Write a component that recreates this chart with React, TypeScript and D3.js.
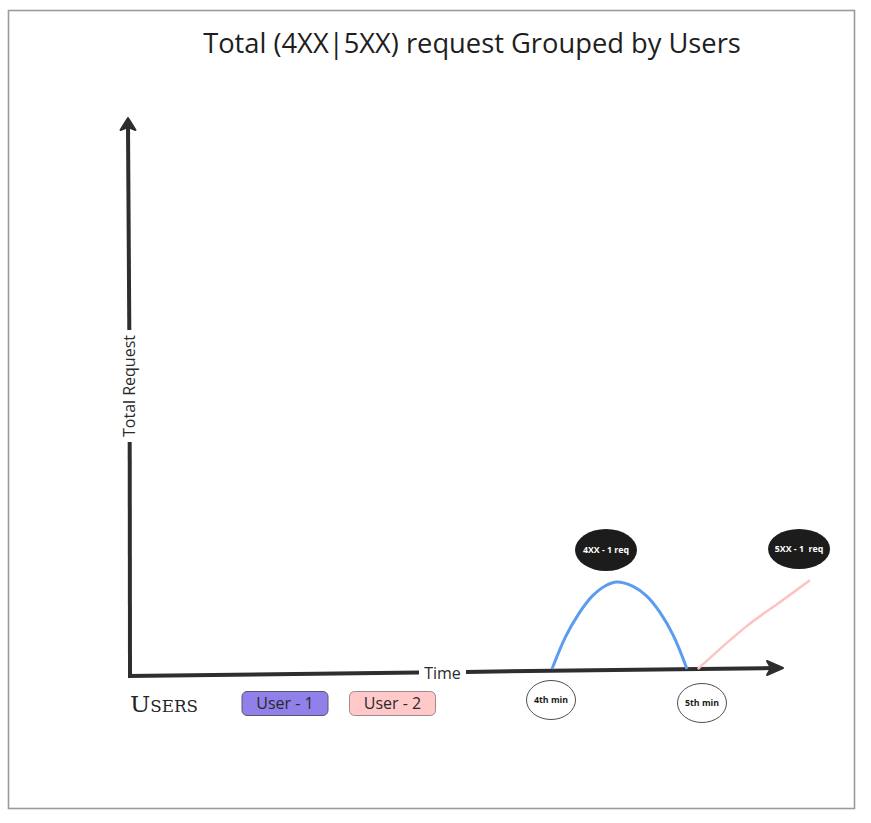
import * as d3 from 'd3';

// ---- data ----
const title = 'Total (4XX|5XX) request Grouped by Users';
const xTitle = 'Time';
const yTitle = 'Total Request';

const timeTicks = [4, 5];
const timeLabels = ['4th min', '5th min'];

// User - 1 : one 4XX request between 4th and 5th minute
const user1Minutes = [4, 4.1, 4.2, 4.3, 4.4, 4.48, 4.6, 4.7, 4.8, 4.9, 5];
const user1Requests = [0, 0.37, 0.64, 0.84, 0.96, 1, 0.95, 0.84, 0.65, 0.38, 0];

// User - 2 : one 5XX request after the 5th minute
const user2Minutes = [5.08, 5.44, 5.69, 5.91];
const user2Requests = [0, 0.49, 0.77, 1.02];

const noteLabels = ['4XX - 1 req', '5XX - 1  req'];
const noteMinutes = [4.4, 5.83];

const userNames = ['User - 1', 'User - 2'];
const userColors = ['#8f80ea', '#ffc9c9'];
const userStrokes = ['#5a5470', '#a08a8a'];
const lineColors = ['#5b9bf0', '#ffc2c2'];

const W = 871;
const H = 823;
const FONT = '"Open Sans", "Noto Sans", sans-serif';
const AXIS = '#2e2e2e';

export default function App() {
  const x = d3.scaleLinear().domain([0, 6]).range([12, 822]);
  const y = d3.scaleLinear().domain([0, 1]).range([669, 582]);

  const line = d3
    .line<[number, number]>()
    .x((d) => x(d[0]))
    .y((d) => y(d[1]))
    .curve(d3.curveCatmullRom.alpha(0.5));

  const user1: [number, number][] = user1Minutes.map((m, i) => [m, user1Requests[i]]);
  const user2: [number, number][] = user2Minutes.map((m, i) => [m, user2Requests[i]]);

  // axis layout
  const ox = 130;
  const oy = 676;
  const xEnd = 783;
  const xEndY = 668;
  const yTop = 118;
  const timeGap = [419, 466];
  const yGap = [330, 442];

  const xAt = (px: number) => oy + ((xEndY - oy) * (px - ox)) / (xEnd - ox);

  return (
    <svg
      width={W}
      height={H}
      viewBox={`0 0 ${W} ${H}`}
      style={{ position: 'absolute', left: 0, top: 0, display: 'block', background: '#fff' }}
    >
      <rect x={8.5} y={10.5} width={846} height={798} fill="#fff" stroke="#9b9b9b" strokeWidth={1.6} />

      <text x={472} y={53} textAnchor="middle" fontFamily={FONT} fontSize={27.3} fill="#1e1e1e">
        {title}
      </text>

      {/* y axis */}
      <g stroke={AXIS} strokeWidth={4} strokeLinecap="butt" fill="none">
        <line x1={ox} y1={oy + 2} x2={129.7} y2={yGap[1]} />
        <line x1={129.3} y1={yGap[0]} x2={128} y2={yTop + 8} />
      </g>
      <path d={`M128,${yTop} L135.5,${yTop + 12} L128,${yTop + 9} L120.5,${yTop + 12} Z`} fill={AXIS} stroke={AXIS} strokeWidth={2} strokeLinejoin="round" />
      <text
        transform={`translate(134.5,${(yGap[0] + yGap[1]) / 2}) rotate(-90)`}
        textAnchor="middle"
        fontFamily={FONT}
        fontSize={16}
        fill="#2a2a2a"
      >
        {yTitle}
      </text>

      {/* x axis */}
      <g stroke={AXIS} strokeWidth={4} fill="none">
        <line x1={ox - 2} y1={oy} x2={timeGap[0]} y2={xAt(timeGap[0])} />
        <line x1={timeGap[1]} y1={xAt(timeGap[1])} x2={xEnd - 10} y2={xAt(xEnd - 10)} />
      </g>
      <path d={`M${xEnd},${xEndY} L${xEnd - 16},${xEndY - 7} L${xEnd - 12},${xEndY} L${xEnd - 16},${xEndY + 7} Z`} fill={AXIS} stroke={AXIS} strokeWidth={2} strokeLinejoin="round" />
      <text x={(timeGap[0] + timeGap[1]) / 2} y={678.5} textAnchor="middle" fontFamily={FONT} fontSize={16} fill="#2a2a2a">
        {xTitle}
      </text>

      {/* series */}
      <path d={line(user1) ?? ''} fill="none" stroke={lineColors[0]} strokeWidth={3} />
      <path d={line(user2) ?? ''} fill="none" stroke={lineColors[1]} strokeWidth={2.5} />

      {/* annotations */}
      {noteLabels.map((t, i) => (
        <g key={t} transform={`translate(${x(noteMinutes[i])},${550 - i})`}>
          <ellipse rx={31} ry={21 - i} fill="#1c1c1c" />
          <text y={3} textAnchor="middle" fontFamily={FONT} fontSize={8.8} fontWeight={700} fill="#fff" style={{ whiteSpace: 'pre' }}>
            {t}
          </text>
        </g>
      ))}

      {/* time tick bubbles */}
      {timeTicks.map((m, i) => (
        <g key={m} transform={`translate(${x(m) - 1 + i * 16},${700 + i * 3})`}>
          <ellipse rx={24.5} ry={19.5} fill="#fff" stroke="#222" strokeWidth={0.8} />
          <text y={3} textAnchor="middle" fontFamily={FONT} fontSize={8.8} fontWeight={700} fill="#1a1a1a">
            {timeLabels[i]}
          </text>
        </g>
      ))}

      {/* legend */}
      <text x={130} y={711.5} fontFamily='"DejaVu Serif", serif' fontSize={23} fill="#262626" style={{ fontVariant: 'small-caps' }} textLength={68} lengthAdjust="spacingAndGlyphs">
        Users
      </text>
      {userNames.map((u, i) => (
        <g key={u} transform={`translate(${242 + i * 107.5},691.5)`}>
          <rect width={86} height={24} rx={5} fill={userColors[i]} stroke={userStrokes[i]} strokeWidth={1} />
          <text x={43} y={17.5} textAnchor="middle" fontFamily={FONT} fontSize={16} fill="#2a2a2a">
            {u}
          </text>
        </g>
      ))}
    </svg>
  );
}
